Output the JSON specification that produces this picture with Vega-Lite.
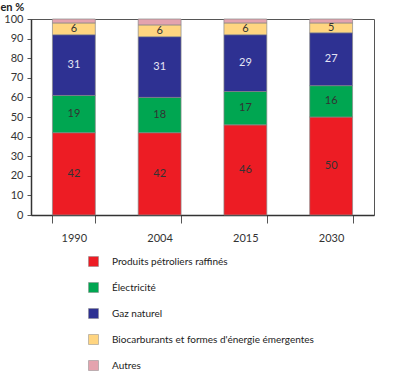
{
  "$schema": "https://vega.github.io/schema/vega-lite/v6.json",
  "width": 343,
  "height": 196,
  "autosize": "none",
  "padding": {"left": 31, "top": 19, "right": 26, "bottom": 162},
  "background": "white",
  "config": {"font": "Lato", "view": {"stroke": "#555", "strokeWidth": 1}},
  "data": {"values": [
    {"year": "1990", "cat": "Produits pétroliers raffinés", "o": 1, "value": 42},
    {"year": "1990", "cat": "Électricité", "o": 2, "value": 19},
    {"year": "1990", "cat": "Gaz naturel", "o": 3, "value": 31},
    {"year": "1990", "cat": "Biocarburants et formes d'énergie émergentes", "o": 4, "value": 6},
    {"year": "1990", "cat": "Autres", "o": 5, "value": 2},
    {"year": "2004", "cat": "Produits pétroliers raffinés", "o": 1, "value": 42},
    {"year": "2004", "cat": "Électricité", "o": 2, "value": 18},
    {"year": "2004", "cat": "Gaz naturel", "o": 3, "value": 31},
    {"year": "2004", "cat": "Biocarburants et formes d'énergie émergentes", "o": 4, "value": 6},
    {"year": "2004", "cat": "Autres", "o": 5, "value": 3},
    {"year": "2015", "cat": "Produits pétroliers raffinés", "o": 1, "value": 46},
    {"year": "2015", "cat": "Électricité", "o": 2, "value": 17},
    {"year": "2015", "cat": "Gaz naturel", "o": 3, "value": 29},
    {"year": "2015", "cat": "Biocarburants et formes d'énergie émergentes", "o": 4, "value": 6},
    {"year": "2015", "cat": "Autres", "o": 5, "value": 2},
    {"year": "2030", "cat": "Produits pétroliers raffinés", "o": 1, "value": 50},
    {"year": "2030", "cat": "Électricité", "o": 2, "value": 16},
    {"year": "2030", "cat": "Gaz naturel", "o": 3, "value": 27},
    {"year": "2030", "cat": "Biocarburants et formes d'énergie émergentes", "o": 4, "value": 5},
    {"year": "2030", "cat": "Autres", "o": 5, "value": 2}
  ]},
  "transform": [
    {"stack": "value", "groupby": ["year"], "sort": [{"field": "o"}], "as": ["v0", "v1"]},
    {"calculate": "(datum.v0 + datum.v1) / 2", "as": "mid"}
  ],
  "encoding": {
    "x": {
      "field": "year", "type": "ordinal",
      "scale": {"paddingInner": 0.5, "paddingOuter": 0.25},
      "axis": {"title": null, "labelAngle": 0, "tickBand": "extent", "tickSize": 8, "labelPadding": 9,
        "domainColor": "#333", "domainWidth": 1.5, "tickColor": "#555", "labelFontSize": 11, "labelColor": "#333"}
    }
  },
  "layer": [
    {
      "mark": {"type": "bar", "stroke": "#888", "strokeWidth": 0.7},
      "encoding": {
        "y": {"field": "v0", "type": "quantitative", "scale": {"domain": [0, 100]},
          "axis": {"title": "en %", "titleAngle": 0, "titleAlign": "left", "titleBaseline": "middle",
            "titleX": -31, "titleY": -12, "titleFontWeight": "bold", "titleFontSize": 11, "titleColor": "#222",
            "values": [0, 10, 20, 30, 40, 50, 60, 70, 80, 90, 100], "labelOverlap": false, "grid": false, "tickSize": 4, "labelPadding": 4,
            "labelFontSize": 11, "labelColor": "#333", "domainColor": "#333", "domainWidth": 1.5, "tickColor": "#555"}},
        "y2": {"field": "v1"},
        "color": {
          "field": "cat", "type": "nominal",
          "scale": {
            "domain": ["Produits pétroliers raffinés", "Électricité", "Gaz naturel", "Biocarburants et formes d'énergie émergentes", "Autres"],
            "range": ["#ED1C24", "#00A651", "#2E3192", "#FFD580", "#E4A3AE"]
          },
          "legend": {"title": null, "orient": "none", "legendX": 57, "legendY": 237, "direction": "vertical",
            "symbolType": "square", "symbolSize": 100, "rowPadding": 13, "labelFontSize": 10, "labelOffset": 13,
            "labelColor": "#222", "symbolStrokeColor": "#888", "symbolStrokeWidth": 0.5, "labelLimit": 300}
        }
      }
    },
    {
      "transform": [{"filter": "datum.cat !== 'Autres'"}],
      "mark": {"type": "text", "fontSize": 11},
      "encoding": {
        "y": {"field": "mid", "type": "quantitative",
          "axis": {"title": "en %", "titleAngle": 0, "titleAlign": "left", "titleBaseline": "middle",
            "titleX": -31, "titleY": -12, "titleFontWeight": "bold", "titleFontSize": 11, "titleColor": "#222",
            "values": [0, 10, 20, 30, 40, 50, 60, 70, 80, 90, 100], "labelOverlap": false, "grid": false, "tickSize": 4, "labelPadding": 4,
            "labelFontSize": 11, "labelColor": "#333", "domainColor": "#333", "domainWidth": 1.5, "tickColor": "#555"}},
        "text": {"field": "value"},
        "color": {"condition": {"test": "datum.cat === 'Gaz naturel'", "value": "#e4e4f4"}, "value": "#333"}
      }
    }
  ]
}
